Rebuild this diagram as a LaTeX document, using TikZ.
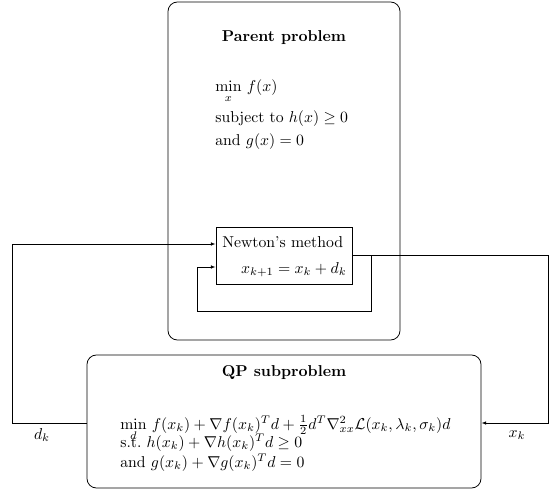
\documentclass[tikz,border=0pt]{standalone}
\usepackage{amsmath,amssymb}
\usetikzlibrary{fit,arrows.meta}
\begin{document}
\begin{tikzpicture}[x=0.635pt,y=-0.635pt,
  frame/.style={draw, rounded corners=6pt, inner sep=0pt, line width=0.5pt},
  nbox/.style={draw, inner sep=0pt, line width=0.5pt},
  arr/.style={-{Latex[length=3pt,width=2.2pt]}, line width=0.45pt},
  lbl/.style={inner sep=0pt}]
\useasboundingbox (0,0) rectangle (550,493);
% boxes
\node[frame, fit={(168,2) (400,340)}] (parent) {};
\node[frame, fit={(87,355) (481,488)}] (qp) {};
\node[nbox, fit={(216,227) (352,284)}] (newton) {};
% parent text
\node[lbl, font=\bfseries] (ptitle) at (284,38) {Parent problem};
\node[lbl, anchor=base west] (pmin) at (215,92) {$\min\limits_{x}\, f(x)$};
\node[lbl, anchor=base west] (psub) at (215,123) {subject to $h(x) \geq 0$};
\node[lbl, anchor=base west] (pand) at (215,146) {and $g(x) = 0$};
% newton text
\node[lbl, anchor=base west] (ntitle) at (222,247) {Newton's method};
\node[lbl, anchor=base east] (nupd) at (347,273) {$x_{k+1} = x_k + d_k$};
% qp text
\node[lbl, font=\bfseries] (qtitle) at (284,373) {QP subproblem};
\node[lbl, anchor=base west] (qmin) at (120,429) {$\mathop{\smash[b]{\min\limits_{d}}}\, f(x_k) + \nabla f(x_k)^T d + \frac{1}{2} d^T \nabla^2_{xx}\mathcal{L}(x_k,\lambda_k,\sigma_k) d$};
\node[lbl, anchor=base west] (qst) at (120,447) {s.t.\ $h(x_k) + \nabla h(x_k)^T d \geq 0$};
\node[lbl, anchor=base west] (qand) at (120,467) {and $g(x_k) + \nabla g(x_k)^T d = 0$};
% helper coordinates
\coordinate (dL) at (12,423);
\coordinate (rR) at (548,423);
\coordinate (yA) at (0,244);
\coordinate (yB) at (0,255);
\coordinate (lp1) at (371,311);
\coordinate (lp2) at (197,267);
% connectors
\draw[arr] (qp.west |- dL) -- (dL) |- (newton.west |- yA);
\draw[arr] (newton.east |- yB) -| (lp1) -| (lp2) -- (newton.west |- lp2);
\draw[arr] (newton.east |- yB) -- (rR |- yB) -- (rR) -- (qp.east |- rR);
% labels
\node[lbl] (dk) at (42,435) {$d_k$};
\node[lbl] (xk) at (517,435) {$x_k$};
\end{tikzpicture}
\end{document}
